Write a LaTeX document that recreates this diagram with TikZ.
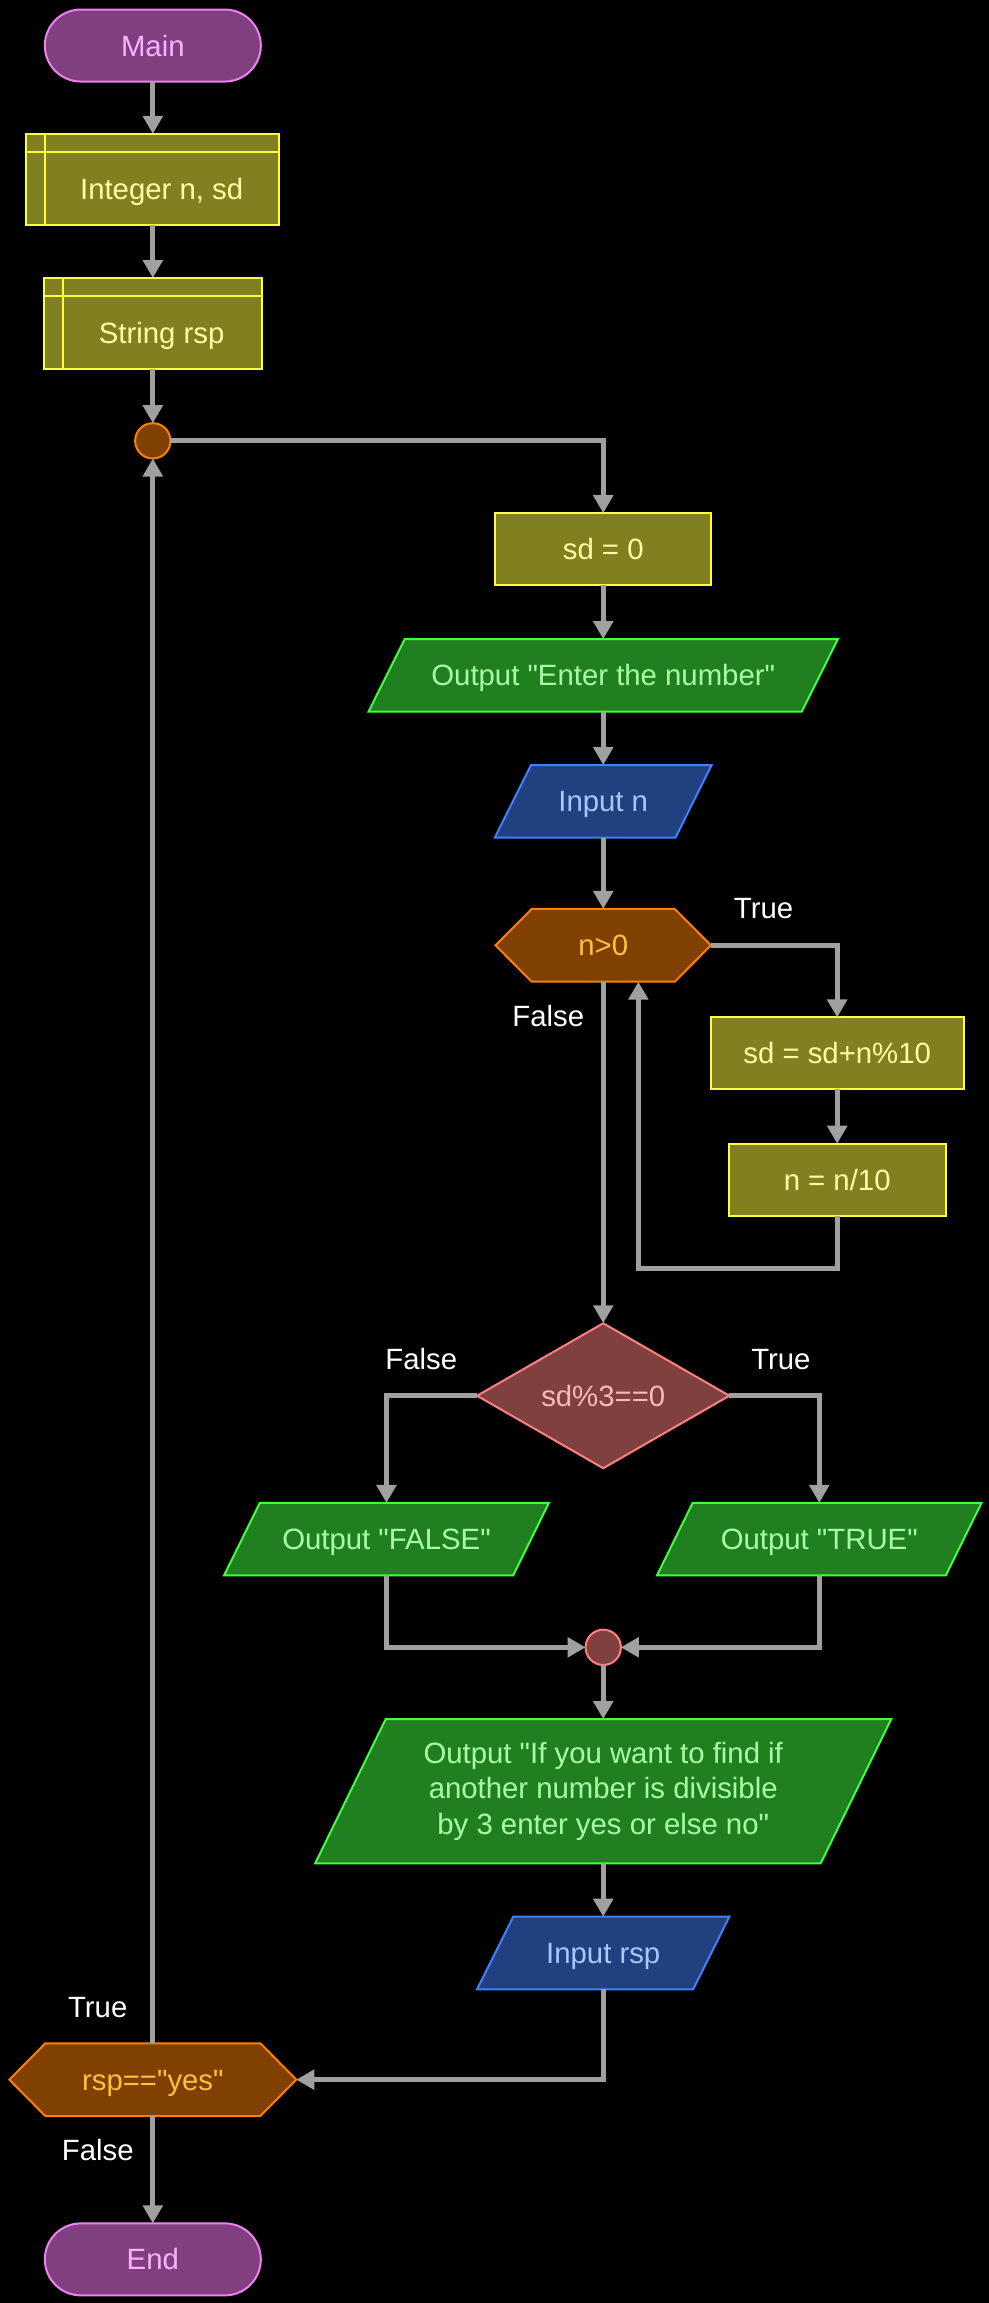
\documentclass[tikz,border=0pt]{standalone}
\usepackage{fontspec}
\setmainfont{Liberation Sans}
\usetikzlibrary{arrows.meta,calc,shapes.geometric}
\pgfdeclarelayer{bg}
\pgfdeclarelayer{shp}
\pgfsetlayers{bg,shp,main}
\definecolor{termfill}{HTML}{804080}
\definecolor{termline}{HTML}{F080F0}
\definecolor{termtext}{HTML}{FFB0FF}
\definecolor{procfill}{HTML}{808020}
\definecolor{procline}{HTML}{FFFF40}
\definecolor{proctext}{HTML}{FFFFA8}
\definecolor{outfill}{HTML}{208020}
\definecolor{outline}{HTML}{40FF40}
\definecolor{outtext}{HTML}{A8FFA8}
\definecolor{infill}{HTML}{204080}
\definecolor{inline}{HTML}{4080FF}
\definecolor{intext}{HTML}{A8C8FF}
\definecolor{hexfill}{HTML}{804000}
\definecolor{hexline}{HTML}{FF8000}
\definecolor{hextext}{HTML}{FFC040}
\definecolor{diafill}{HTML}{804040}
\definecolor{dialine}{HTML}{FF8080}
\definecolor{diatext}{HTML}{FFB8B8}
\definecolor{linegray}{HTML}{A0A0A0}
\newcommand\myfs{\fontsize{22pt}{26.5pt}\selectfont}
\newcommand\qd{\textquotedbl}
\newcommand\drawpara[3]{%
  \begin{pgfonlayer}{shp}
  \path[#3] (#1.south west) -- ($(#1.north west)+(#2,0)$) -- (#1.north east) -- ($(#1.south east)-(#2,0)$) -- cycle;
  \end{pgfonlayer}}
\newcommand\drawhex[3]{%
  \begin{pgfonlayer}{shp}
  \path[#3] (#1.west) -- ($(#1.north west)+(#2,0)$) -- ($(#1.north east)-(#2,0)$) -- (#1.east) -- ($(#1.south east)-(#2,0)$) -- ($(#1.south west)+(#2,0)$) -- cycle;
  \end{pgfonlayer}}
\begin{document}
\begin{tikzpicture}[x=1.1021pt,y=-1.1021pt,
  base/.style={font=\myfs, inner sep=0pt, outer sep=0pt, line width=1.5pt, align=center},
  oneline/.style={text height=15.75pt, text depth=0pt},
  term/.style={base, oneline, rectangle, rounded corners=27pt, minimum width=162pt, minimum height=54pt, fill=termfill, draw=termline, text=termtext},
  proc/.style={base, oneline, rectangle, minimum height=54pt, fill=procfill, draw=procline, text=proctext},
  decl/.style={base, rectangle, minimum height=68.3pt, fill=procfill, draw=procline},
  decltext/.style={base, oneline, text=proctext},
  outtxt/.style={base, oneline, minimum height=54.4pt, text=outtext},
  intxt/.style={base, oneline, minimum height=54.4pt, text=intext},
  hextxt/.style={base, oneline, minimum height=54.6pt, text=hextext},
  dia/.style={base, oneline, diamond, minimum width=189.2pt, minimum height=108pt, fill=diafill, draw=dialine, text=diatext},
  joint/.style={circle, minimum size=26.5pt, inner sep=0pt, outer sep=0pt, line width=1.5pt},
  lbl/.style={font=\myfs, text=white, inner sep=0pt, text height=15.75pt, text depth=0pt},
  conn/.style={draw=linegray, line width=3.75pt, -{Triangle[width=14.5pt,length=13.5pt]}},
  outshape/.style={fill=outfill, draw=outline, line width=1.5pt},
  inshape/.style={fill=infill, draw=inline, line width=1.5pt},
  hexshape/.style={fill=hexfill, draw=hexline, line width=1.5pt},
  declline/.style={draw=procline, line width=1.5pt}
]
\begin{pgfonlayer}{bg}
\fill[black] (0,0) rectangle (673,1567.2);
\end{pgfonlayer}
\useasboundingbox (0,0) rectangle (673,1567.2);

% nodes
\node[term] (main) at (104,31) {Main};
\node[decl, minimum width=189.6pt] (d1) at (104,122.1) {};
\node[decltext] (d1t) at ($(d1.center)+(6,6.5)$) {Integer n, sd};
\node[decl, minimum width=163pt] (d2) at (104,220.2) {};
\node[decltext] (d2t) at ($(d2.center)+(6,6.5)$) {String rsp};
\node[joint, fill=hexfill, draw=hexline] (c1) at (104,300) {};
\node[proc, minimum width=162pt] (sd0) at (410.5,373.7) {sd = 0};
\node[outtxt, minimum width=352pt] (out1) at (410.5,459.6) {Output \qd Enter the number\qd};
\node[intxt, minimum width=162.6pt] (in1) at (410.5,545.3) {Input n};
\node[hextxt, minimum width=161.5pt] (h1) at (410.5,643.3) {n>0};
\node[proc, minimum width=189.6pt] (p1) at (569.7,716.9) {sd = sd+n\%10};
\node[proc, minimum width=162.8pt] (p2) at (569.7,802.8) {n = n/10};
\coordinate (lp) at (434.4,863.1);
\node[dia] (dc) at (410.5,949.8) {sd\%3==0};
\node[outtxt, minimum width=243.6pt] (of) at (263,1047.4) {Output \qd FALSE\qd};
\node[outtxt, minimum width=243.4pt] (ot) at (557.5,1047.4) {Output \qd TRUE\qd};
\node[joint, fill=diafill, draw=dialine] (c2) at (410.5,1121) {};
\node[base, text=outtext, minimum width=432pt, minimum height=108.2pt] (out3) at (410.5,1218.9) {Output \qd If you want to find if\\another number is divisible\\by 3 enter yes or else no\qd};
\node[intxt, minimum width=189.2pt] (in2) at (410.5,1329) {Input rsp};
\node[hextxt, minimum width=215.2pt] (h2) at (104,1415.2) {rsp==\qd yes\qd};
\node[term] (endn) at (104,1537.5) {End};

% shapes behind text
\drawpara{out1}{24.6}{outshape}
\drawpara{in1}{24.6}{inshape}
\drawpara{of}{24.3}{outshape}
\drawpara{ot}{24.3}{outshape}
\drawpara{out3}{48}{outshape}
\drawpara{in2}{24.6}{inshape}
\drawhex{h1}{24.6}{hexshape}
\drawhex{h2}{24.5}{hexshape}
\draw[declline] ($(d1.north west)+(12.5,0)$) -- ($(d1.south west)+(12.5,0)$);
\draw[declline] ($(d1.north west)+(0,12.5)$) -- ($(d1.north east)+(0,12.5)$);
\draw[declline] ($(d2.north west)+(12.9,0)$) -- ($(d2.south west)+(12.9,0)$);
\draw[declline] ($(d2.north west)+(0,12)$) -- ($(d2.north east)+(0,12)$);

% connectors
\draw[conn] (main) -- (d1);
\draw[conn] (d1) -- (d2);
\draw[conn] (d2) -- (c1);
\draw[conn] (c1) -| (sd0);
\draw[conn] (sd0) -- (out1);
\draw[conn] (out1) -- (in1);
\draw[conn] (in1) -- (h1);
\draw[conn] (h1) -| (p1);
\draw[conn] (p1) -- (p2);
\draw[conn] (p2) |- (lp) -- (lp |- h1.south);
\draw[conn] (h1) -- (dc);
\draw[conn] (dc) -| (of);
\draw[conn] (dc) -| (ot);
\draw[conn] (of) |- (c2);
\draw[conn] (ot) |- (c2);
\draw[conn] (c2) -- (out3);
\draw[conn] (out3) -- (in2);
\draw[conn] (in2) |- (h2);
\draw[conn] (h2) -- (c1);
\draw[conn] (h2) -- (endn);

% labels
\node[lbl] (t1) at (519.6,617.9) {True};
\node[lbl] (f1) at (373.1,691.7) {False};
\node[lbl] (f2) at (286.7,925) {False};
\node[lbl] (t2) at (531.4,925) {True};
\node[lbl] (t3) at (66.5,1365.6) {True};
\node[lbl] (f3) at (66.5,1463.1) {False};
\end{tikzpicture}
\end{document}
